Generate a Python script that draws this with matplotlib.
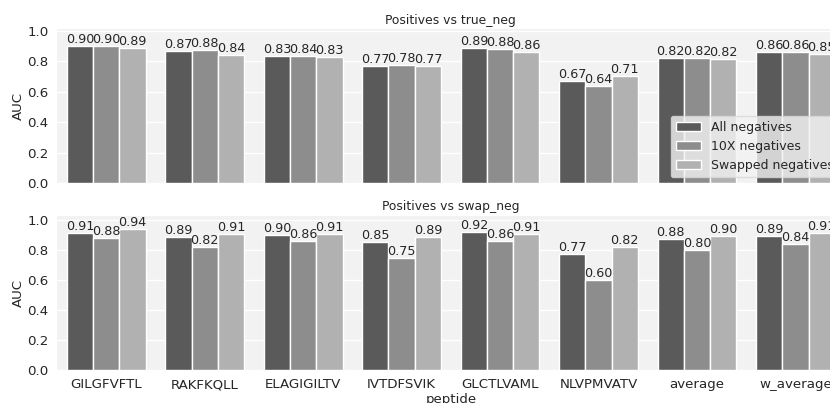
import numpy as np
from matplotlib import pyplot as plt

peptides = ["GILGFVFTL", "RAKFKQLL", "ELAGIGILTV", "IVTDFSVIK",
            "GLCTLVAML", "NLVPMVATV", "average", "w_average"]
series_names = ["All negatives", "10X negatives", "Swapped negatives"]

# Positives vs true_neg
true_all = [0.903, 0.868, 0.833, 0.772, 0.889, 0.672, 0.824, 0.862]
true_10x = [0.901, 0.878, 0.838, 0.776, 0.880, 0.640, 0.822, 0.860]
true_swap = [0.887, 0.843, 0.829, 0.768, 0.862, 0.707, 0.818, 0.852]

# Positives vs swap_neg
swap_all = [0.912, 0.886, 0.898, 0.853, 0.922, 0.772, 0.877, 0.891]
swap_10x = [0.880, 0.820, 0.861, 0.750, 0.861, 0.598, 0.798, 0.838]
swap_swap = [0.940, 0.907, 0.908, 0.887, 0.907, 0.820, 0.897, 0.912]

colors = ["#5a5a5a", "#8d8d8d", "#b1b1b1"]

plt.rcParams["font.family"] = ["DejaVu Sans"]
plt.rcParams["text.color"] = "#262626"
plt.rcParams["axes.labelcolor"] = "#262626"
plt.rcParams["xtick.color"] = "#262626"
plt.rcParams["ytick.color"] = "#262626"

fig = plt.figure(figsize=(8.3, 4.03), dpi=100)
ax_top = fig.add_axes([0.0687, 0.545, 0.949, 0.382])
ax_bot = fig.add_axes([0.0687, 0.0819, 0.949, 0.382])

x = np.arange(len(peptides))
width = 0.8 / 3


def draw(ax, groups, title, ytop):
    ax.set_facecolor("#f2f2f2")
    for s in ax.spines.values():
        s.set_visible(False)
    ax.set_axisbelow(True)
    ax.grid(axis="y", color="white", linewidth=1.0)
    for i, (vals, name) in enumerate(zip(groups, series_names)):
        bars = ax.bar(x + (i - 1) * width, vals, width, color=colors[i],
                      edgecolor="white", linewidth=1.0, label=name)
        ax.bar_label(bars, fmt="%.2f", fontsize=9.2, padding=0)
    ax.set_xlim(-0.5, len(peptides) - 0.5)
    ax.set_ylim(0, ytop)
    ax.set_yticks([0.0, 0.2, 0.4, 0.6, 0.8, 1.0])
    ax.tick_params(axis="both", length=0, labelsize=9.6, pad=6)
    ax.set_ylabel("AUC", fontsize=9.6, labelpad=2)
    ax.set_title(title, fontsize=8.9, pad=4)


draw(ax_top, [true_all, true_10x, true_swap], "Positives vs true_neg", 1.01)
draw(ax_bot, [swap_all, swap_10x, swap_swap], "Positives vs swap_neg", 1.027)

ax_top.set_xticks(x)
ax_top.set_xticklabels([])
ax_bot.set_xticks(x)
ax_bot.set_xticklabels(peptides)
ax_bot.set_xlabel("peptide", fontsize=9.6, labelpad=1)

ax_top.legend(loc="lower right", fontsize=9, frameon=True,
              facecolor="#f2f2f2", edgecolor="#d8d8d8", framealpha=0.8)

fig.savefig("out.png", dpi=100)
plt.close(fig)
